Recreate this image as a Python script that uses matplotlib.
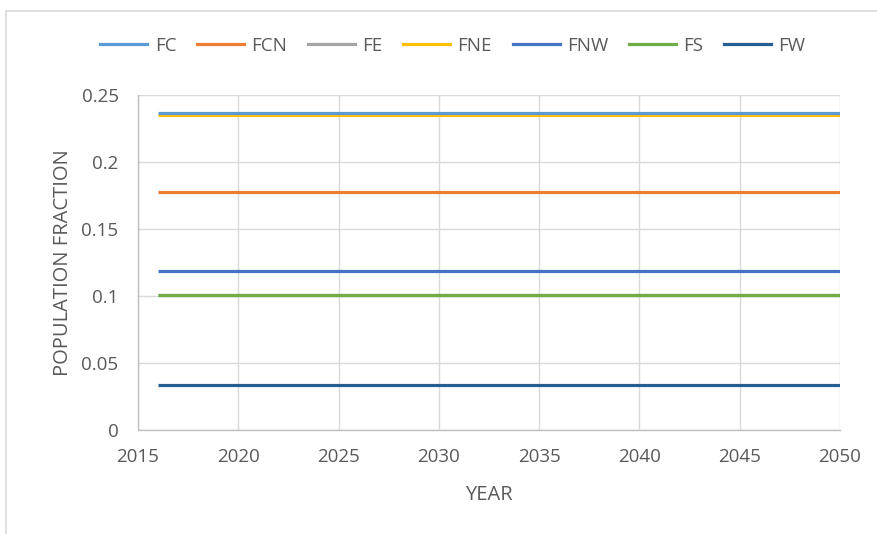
import matplotlib
matplotlib.use("Agg")
import matplotlib.pyplot as plt
from matplotlib.lines import Line2D

# Regional population fractions, held constant over the projection horizon
years = [2016, 2050]
fc = [0.2363, 0.2363]
fcn = [0.1776, 0.1776]
fe = [0.1006, 0.1006]
fne = [0.2353, 0.2353]
fnw = [0.1187, 0.1187]
fs = [0.1008, 0.1008]
fw = [0.0336, 0.0336]

series_names = ["FC", "FCN", "FE", "FNE", "FNW", "FS", "FW"]
series_values = [fc, fcn, fe, fne, fnw, fs, fw]
series_colors = ["#5B9BD5", "#ED7D31", "#A5A5A5", "#FFC000", "#4472C4", "#70AD47", "#255E91"]

x_ticks = [2015, 2020, 2025, 2030, 2035, 2040, 2045, 2050]
y_ticks = [0, 0.05, 0.1, 0.15, 0.2, 0.25]
y_tick_labels = ["0", "0.05", "0.1", "0.15", "0.2", "0.25"]

plt.rcParams["font.family"] = ["Open Sans", "DejaVu Sans"]
text_color = "#595959"
grid_color = "#D9D9D9"
fs_text = 13.5

fig = plt.figure(figsize=(8.78, 5.34), dpi=100)
ax = fig.add_axes([138 / 878, 1 - 430 / 534, (840 - 138) / 878, (430 - 95) / 534])

# Draw in an order that leaves the upper series on top where they overlap
draw_order = ["FE", "FS", "FW", "FNW", "FCN", "FNE", "FC"]
for name in draw_order:
    i = series_names.index(name)
    ax.plot(years, series_values[i], color=series_colors[i], lw=2.3,
            solid_capstyle="butt", zorder=3)

ax.set_xlim(2015, 2050)
ax.set_ylim(0, 0.25)
ax.set_xticks(x_ticks)
ax.set_yticks(y_ticks)
ax.set_yticklabels(y_tick_labels)
ax.grid(True, color=grid_color, lw=1.0, zorder=0)
ax.tick_params(length=0, labelsize=fs_text, colors=text_color)
ax.tick_params(axis="y", pad=14)
ax.tick_params(axis="x", pad=13)
for side in ["top", "right"]:
    ax.spines[side].set_visible(False)
for side in ["left", "bottom"]:
    ax.spines[side].set_color("#BFBFBF")
    ax.spines[side].set_linewidth(1.0)

ax.set_xlabel("YEAR", fontsize=14.5, color=text_color, labelpad=14)
ax.set_ylabel("POPULATION FRACTION", fontsize=14.5, color=text_color, labelpad=6)

handles = [Line2D([0], [0], color=c, lw=2.3) for c in series_colors]
fig.legend(handles, series_names, loc="center", bbox_to_anchor=(453 / 878, 1 - 46 / 534),
           ncol=7, frameon=False, fontsize=fs_text, handlelength=2.5,
           handletextpad=0.4, columnspacing=1.1, labelcolor=text_color)

# Chart-area border along top and left
fig.add_artist(Line2D([6 / 878, 6 / 878], [0, 1 - 11 / 534], transform=fig.transFigure,
                      color=grid_color, lw=1.2))
fig.add_artist(Line2D([6 / 878, 1], [1 - 11 / 534, 1 - 11 / 534], transform=fig.transFigure,
                      color=grid_color, lw=1.2))

fig.savefig("out.png", dpi=100)
